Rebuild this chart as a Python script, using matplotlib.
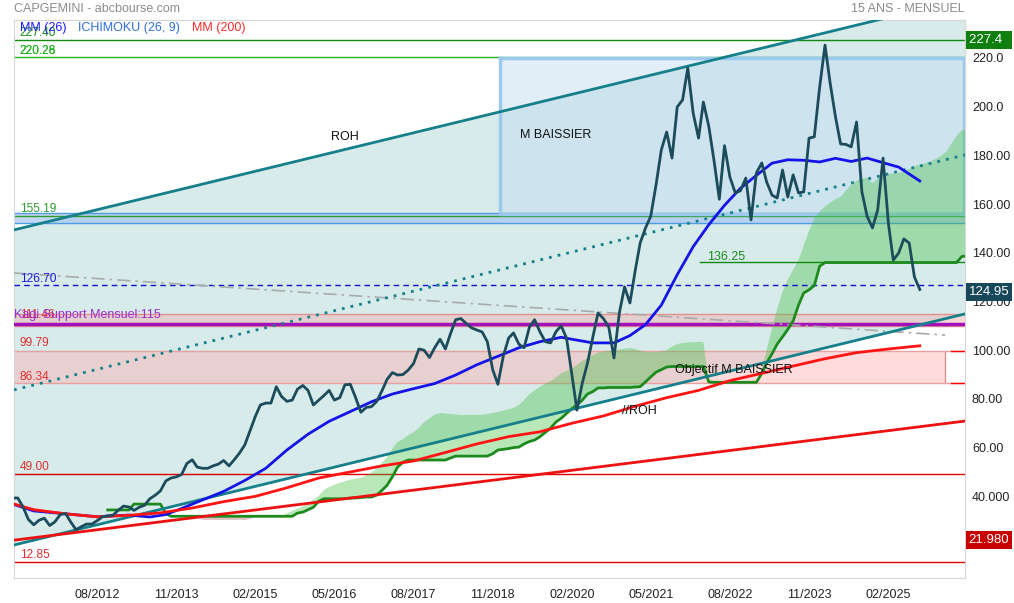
import pandas as pd
import matplotlib
matplotlib.use("Agg")
import matplotlib.pyplot as plt
import matplotlib.dates as mdates

plt.rcParams['font.family'] = ['Liberation Sans', 'DejaVu Sans']

# monthly closes, 2011-04 .. 2025-08
price = [39.3, 39.3, 35.5, 30.5, 28.3, 30.2, 31.0, 28.0, 29.5, 32.5, 32.9, 29.5, 26.3, 27.5, 28.6, 28.6,
         30.0, 31.6, 32.0, 32.3, 34.3, 36.0, 35.6, 34.2, 35.5, 36.3, 39.0, 40.4, 42.2, 46.3, 47.5, 48.0,
         48.9, 53.5, 55.0, 52.0, 51.5, 51.5, 52.5, 53.2, 54.7, 52.5, 55.0, 57.8, 61.1, 67.0, 73.0, 77.5,
         78.3, 78.3, 85.0, 81.0, 79.0, 79.5, 84.0, 85.5, 83.5, 77.5, 79.5, 81.3, 83.5, 79.5, 80.5, 85.8,
         86.0, 80.5, 74.5, 76.5, 76.8, 79.0, 83.5, 88.0, 90.8, 89.8, 90.0, 91.8, 94.5, 100.5, 100.0, 97.0,
         101.0, 104.5, 100.5, 106.5, 112.5, 113.0, 111.0, 109.2, 108.3, 107.5, 103.5, 92.0, 86.0, 97.5,
         105.0, 107.1, 102.5, 101.0, 109.5, 112.5, 107.5, 103.5, 103.0, 107.6, 110.0, 105.0, 90.0, 75.4,
         86.5, 94.7, 105.4, 115.3, 113.0, 109.5, 96.8, 115.3, 126.0, 119.4, 132.9, 144.0, 150.2, 155.0,
         168.0, 182.2, 189.6, 178.9, 199.9, 202.8, 215.9, 197.4, 187.1, 201.9, 192.0, 178.1, 162.0, 184.0,
         171.1, 164.6, 165.5, 170.7, 153.5, 172.8, 176.9, 169.1, 163.7, 162.5, 174.0, 162.9, 172.0, 164.6,
         165.0, 187.1, 187.6, 208.0, 225.3, 210.0, 196.0, 184.7, 184.5, 183.5, 193.7, 165.0, 155.0, 150.2,
         157.6, 178.9, 152.0, 137.0, 139.9, 145.7, 144.0, 130.1, 124.95]
months = pd.date_range("2011-04-01", periods=len(price), freq="MS")

mm26_dates = ["2011-04", "2011-08", "2012-02", "2012-08", "2013-02", "2013-06", "2013-09", "2013-12",
              "2014-04", "2014-08", "2014-12", "2015-04", "2015-08", "2015-12", "2016-04", "2016-08",
              "2016-12", "2017-04", "2017-08", "2017-12", "2018-04", "2018-08", "2018-12", "2019-04",
              "2019-08", "2019-12", "2020-02", "2020-06", "2020-10", "2021-01", "2021-04", "2021-07",
              "2021-10", "2022-01", "2022-04", "2022-07", "2022-10", "2023-01", "2023-04", "2023-07",
              "2023-10", "2024-01", "2024-04", "2024-07", "2024-10", "2025-01", "2025-04", "2025-08"]
mm26 = [36.8, 34.0, 32.8, 31.6, 32.3, 31.5, 32.5, 35.0, 38.5, 42.0, 46.5, 51.5, 59.0, 65.5, 70.8, 74.8,
        78.8, 82.0, 84.2, 86.3, 89.8, 94.0, 97.5, 101.0, 103.5, 105.3, 104.5, 103.0, 103.0, 106.0, 110.5,
        118.5, 131.0, 142.5, 151.5, 159.5, 166.5, 171.8, 176.8, 178.2, 178.0, 177.3, 178.8, 177.5, 178.9,
        177.0, 175.2, 169.5]

mm200_dates = ["2011-04", "2011-08", "2012-02", "2012-08", "2013-02", "2013-08", "2014-02", "2014-08",
               "2015-02", "2015-08", "2016-02", "2016-08", "2017-02", "2017-08", "2018-02", "2018-08",
               "2019-02", "2019-08", "2020-02", "2020-08", "2021-02", "2021-08", "2022-02", "2022-08",
               "2023-02", "2023-08", "2024-02", "2024-08", "2025-02", "2025-08"]
mm200 = [37.0, 34.5, 32.8, 31.6, 32.2, 33.2, 35.2, 37.8, 40.0, 43.5, 47.5, 50.0, 52.5, 54.5, 58.0, 61.5,
         64.5, 66.5, 70.0, 73.0, 77.0, 80.5, 83.5, 87.5, 90.5, 93.5, 96.5, 99.0, 100.5, 101.8]

# ichimoku spans, monthly (span B from 2012-10, span A from 2013-10), until 2026-05
span_b = [34.4, 34.4, 34.4, 34.4, 34.4, 36.8, 36.8, 36.8, 36.8, 36.8, 36.8, 33.0,
          31.8, 31.8, 31.8, 31.8, 31.8, 31.8, 31.8, 31.8, 31.8, 31.8, 31.8, 31.8,
          31.8, 31.8, 31.8, 31.8, 31.8, 31.8, 31.8, 31.8, 31.8, 31.8, 31.8, 31.8,
          33.1, 33.5, 34.5, 35.5, 38.0, 39.0, 39.0, 39.0, 39.0, 39.0, 39.3, 39.3, 39.5, 39.7, 39.7,
          40.5, 42.5, 44.5, 48.0, 52.0, 54.0, 54.9, 54.9, 54.9, 54.9, 54.9, 54.9, 54.9, 54.9, 55.7,
          56.5, 56.5, 56.5, 56.5, 56.5, 56.5, 56.5, 57.5, 59.0, 59.3, 59.6, 60.0, 60.2, 61.5, 62.5,
          63.1, 64.5, 66.3, 68.0, 70.5, 72.0, 74.0, 76.0, 77.5, 79.5, 82.0, 83.0, 84.5, 84.5, 84.7,
          84.7, 84.7, 84.7, 84.7, 84.9, 85.0, 87.0, 89.0, 91.0, 92.0, 93.1, 93.3, 93.3, 93.3, 93.3,
          93.3, 93.3, 93.3, 87.0, 86.8, 86.8, 86.8, 86.8, 86.8, 86.8, 86.8, 86.8, 86.8, 90.5, 94.7,
          98.5, 102.5, 105.5, 108.5, 112.0, 118.5, 123.5, 124.8, 126.5, 134.5, 136.0, 136.0, 136.0,
          136.0, 136.0, 136.0, 136.0, 136.0, 136.0, 136.0, 136.0, 136.0, 136.0, 136.0, 136.0, 136.0,
          136.0, 136.0, 136.0, 136.0, 136.0, 136.0, 136.0, 136.0, 136.0, 136.0, 138.5, 138.7]
span_a = [31.8, 31.8, 31.8, 31.8, 31.8, 31.3, 30.5, 30.5, 30.5, 30.5, 30.5, 30.5, 30.5, 30.5, 30.5,
          31.0, 31.8, 31.8, 31.8, 31.8, 31.8, 31.8, 33.0, 34.0, 35.0, 35.8, 37.0, 38.5, 40.3, 42.5,
          43.8, 44.8, 45.5, 46.2, 46.8, 47.2, 47.5, 48.5, 49.8, 51.5, 53.8, 56.1, 59.5, 62.3, 63.5,
          65.0, 66.4, 68.0, 70.5, 72.0, 73.5, 74.2, 74.0, 73.8, 73.6, 73.4, 73.4, 73.4, 73.4, 73.5,
          73.8, 74.2, 74.6, 75.2, 75.8, 76.3, 77.5, 79.5, 82.0, 83.5, 85.0, 86.3, 87.3, 88.8, 90.5,
          91.5, 92.5, 94.0, 95.5, 96.8, 98.0, 99.0, 99.5, 99.8, 100.0, 100.3, 100.6, 100.9, 100.5,
          99.8, 99.3, 99.3, 99.3, 99.5, 100.0, 101.5, 102.5, 103.0, 103.2, 103.3, 103.4, 103.4, 87.0,
          86.8, 86.8, 86.8, 86.8, 86.8, 86.8, 86.8, 86.8, 86.8, 92.0, 100.0, 109.0, 117.0, 124.0,
          129.0, 133.0, 137.0, 143.0, 149.0, 154.0, 157.0, 159.0, 160.5, 162.0, 163.0, 165.5, 168.0,
          169.5, 170.3, 171.0, 168.5, 170.5, 172.0, 172.3, 172.6, 172.8, 173.5, 174.5, 175.5, 176.2,
          176.8, 177.5, 178.5, 179.8, 181.5, 185.0, 188.0, 190.4, 190.5]
b_months = pd.date_range("2012-10-01", periods=len(span_b), freq="MS")
a_months = pd.date_range("2013-10-01", periods=len(span_a), freq="MS")

# hand drawn lines (values at left and right edge of the chart)
edge_dates = ["2011-04-09", "2026-04-19"]
roh_low = [20.0, 114.9]
roh_high = [149.4, 244.3]
roh_mid = [83.7, 180.2]
red_trend = [21.98, 70.9]
grey_dates = ["2011-04-09", "2025-12-25"]
grey_line = [131.7, 106.2]

tick_dates = ["2012-08", "2013-11", "2015-02", "2016-05", "2017-08", "2018-11",
              "2020-02", "2021-05", "2022-08", "2023-11", "2025-02"]
y_ticks = [40, 60, 80, 100, 120, 140, 160, 180, 200, 220]
y_labels = ["40.000", "60.00", "80.00", "100.00", "120.00", "140.00", "160.00", "180.00", "200.0", "220.0"]

d = pd.to_datetime
ed = d(edge_dates)

fig = plt.figure(figsize=(10.14, 6.03), dpi=100)
ax = fig.add_axes([14 / 1014, 1 - 578 / 603, 951 / 1014, 558 / 603])

# ROH channel
ax.fill_between(ed, roh_low, roh_high, color="#d7ebeb", zorder=0, lw=0)

# zones
ax.axhspan(110.0, 115.0, color="#f2b5b5", alpha=0.5, zorder=1, lw=0)
for v in [110.0, 115.0]:
    ax.axhline(v, color="#e59090", lw=1, zorder=1)
ax.fill_between(d(["2011-04-01", "2025-12-25"]), 86.34, 99.79, color="#ffb0b0", alpha=0.45,
                zorder=1, lw=0)
ax.plot(d(["2025-12-25", "2025-12-25"]), [86.34, 99.79], color="#e59090", lw=1, zorder=1)
for v in [86.34, 99.79]:
    ax.axhline(v, color="#e8a0a0", lw=1, zorder=1)
ax.axhline(99.79, xmin=0.985, color="#ff0000", lw=1, zorder=1)
ax.axhline(86.34, xmin=0.985, color="#ff0000", lw=1, zorder=1)

ax.axhspan(152.2, 156.3, color="#a9c6ee", alpha=0.7, zorder=1, lw=0)
ax.axhline(156.3, color="#4d9de0", lw=1, zorder=2)
ax.axhline(152.2, color="#4d9de0", lw=1, zorder=2)
ax.axhline(155.19, color="#2e9a2e", lw=1, zorder=2)

ax.fill_between(d(["2018-12-13", "2026-04-12"]), 155.8, 220.0, color="#c4dcf0", alpha=0.5,
                zorder=1, lw=0)
ax.plot(d(["2018-12-13", "2026-04-12", "2026-04-12", "2018-12-13", "2018-12-13"]),
        [220.0, 220.0, 155.8, 155.8, 220.0], color="#9cc9ee", lw=2.5, zorder=2)

# horizontal levels
ax.axhline(227.40, color="#128a12", lw=1, zorder=2)
ax.axhline(220.28, color="#22b522", lw=1, zorder=1.5)
ax.axhline(126.70, color="#1010d0", lw=1, ls=(0, (4, 3)), zorder=3)
ax.axhline(110.6, color="#a312b8", lw=2.5, zorder=3)
ax.axhline(49.00, color="#dd0000", lw=1, zorder=2)
ax.axhline(12.85, color="#dd0000", lw=1, zorder=2)
ax.plot(d(["2022-02-10", "2026-04-19"]), [136.25, 136.25], color="#128a12", lw=1, zorder=3)

# ichimoku cloud
b_on_a = pd.Series(span_b, index=b_months).reindex(a_months).values
ax.fill_between(a_months, span_a, b_on_a, where=[x >= y for x, y in zip(span_a, b_on_a)],
                color="#45c045", alpha=0.38, lw=0, zorder=2, interpolate=True)
ax.fill_between(a_months, span_a, b_on_a, where=[x < y for x, y in zip(span_a, b_on_a)],
                color="#b06a6a", alpha=0.4, lw=0, zorder=2, interpolate=True)
ax.plot(b_months, span_b, color="#1d8a1d", lw=2, zorder=4)

# trend lines
ax.plot(ed, roh_low, color="#16808a", lw=2, zorder=4)
ax.plot(ed, roh_high, color="#16808a", lw=2, zorder=4)
ax.plot(ed, roh_mid, color="#16808a", lw=2, ls=(0, (1, 2.2)), zorder=4)
ax.plot(ed, red_trend, color="#ee1111", lw=2, zorder=4)
ax.plot(d(grey_dates), grey_line, color="#aaaaaa", lw=1.2, ls=(0, (8, 3, 1.5, 3)), zorder=3)

# moving averages and price
ax.plot(d(mm26_dates), mm26, color="#1414e8", lw=2, zorder=5)
ax.plot(d(mm200_dates), mm200, color="#ff1414", lw=2, zorder=5)
ax.plot(months, price, color="#1c4b5b", lw=2, zorder=6)

ax.set_xlim(ed[0], ed[1])
ax.set_ylim(6.45, 235.6)

ax.set_xticks(d(tick_dates))
ax.xaxis.set_major_formatter(mdates.DateFormatter("%m/%Y"))
ax.yaxis.tick_right()
ax.set_yticks(y_ticks)
ax.set_yticklabels(y_labels)
ax.tick_params(axis="both", length=0, labelsize=9, colors="#222222")
ax.tick_params(axis="x", pad=8)
ax.tick_params(axis="y", pad=5)
for s in ax.spines.values():
    s.set_color("#d6d6d6")

# left level labels
yx = ax.get_yaxis_transform()
lab = dict(transform=yx, fontsize=8.6, ha="left", va="bottom", zorder=7)
ax.text(0.006, 227.6, "227.40", color="#128a12", **lab)
ax.text(0.006, 220.4, "220.28", color="#22b522", **lab)
ax.text(0.006, 220.4, "220.26", color="#22b522", **lab)
ax.text(0.006, 155.5, "155.19", color="#2e9a2e", **lab)
ax.text(0.006, 126.9, "126.70", color="#1a1ae0", **lab)
ax.text(0.006, 111.8, "111.46", color="#e03030", **lab)
ax.text(0.0, 111.8, "Kagi Support Mensuel:115", color="#9a2fd0", transform=yx, fontsize=9,
        ha="left", va="bottom", zorder=7)
ax.text(0.006, 100.3, "99.79", color="#e03030", **lab)
ax.text(0.006, 86.6, "86.34", color="#e03030", **lab)
ax.text(0.006, 49.5, "49.00", color="#e03030", **lab)
ax.text(0.006, 13.3, "12.85", color="#e03030", **lab)

# right value boxes
box = dict(transform=yx, fontsize=9.5, ha="left", va="center", color="white", zorder=8, clip_on=False)
ax.text(1.004, 227.4, "227.4  ", bbox=dict(boxstyle="square,pad=0.22", fc="#0f7f0f", ec="none"), **box)
ax.text(1.004, 124.0, "124.95", bbox=dict(boxstyle="square,pad=0.22", fc="#17475a", ec="none"), **box)
ax.text(1.004, 21.98, "21.980", bbox=dict(boxstyle="square,pad=0.22", fc="#c80000", ec="none"), **box)

# annotations
ax.text(d("2016-07-01"), 187.6, "ROH", fontsize=9, ha="center", va="center", color="#111111", zorder=7)
ax.text(d("2019-04-05"), 188.4, "M BAISSIER", fontsize=9, ha="left", va="center", color="#111111", zorder=7)
ax.text(d("2022-03-20"), 138.3, "136.25", fontsize=9, ha="left", va="center", color="#1d8a1d", zorder=7)
ax.text(d("2021-09-20"), 91.9, "Objectif M BAISSIER", fontsize=9, ha="left", va="center",
        color="#111111", zorder=7)
ax.text(d("2020-11-15"), 75.0, "//ROH", fontsize=9, ha="left", va="center", color="#111111", zorder=7)

# header and legend
fig.text(14 / 1014, 1 - 9 / 603, "CAPGEMINI - abcbourse.com", fontsize=9, color="#8c8c8c", va="center")
fig.text(965 / 1014, 1 - 9 / 603, "15 ANS - MENSUEL", fontsize=9, color="#8c8c8c", va="center", ha="right")
fig.text(20 / 1014, 1 - 28 / 603, "MM (26)", fontsize=9, color="#1a1aff", va="center")
fig.text(78 / 1014, 1 - 28 / 603, "ICHIMOKU (26, 9)", fontsize=9, color="#2f6fd6", va="center")
fig.text(192 / 1014, 1 - 28 / 603, "MM (200)", fontsize=9, color="#ff2a2a", va="center")

fig.savefig("out.png", dpi=100)
